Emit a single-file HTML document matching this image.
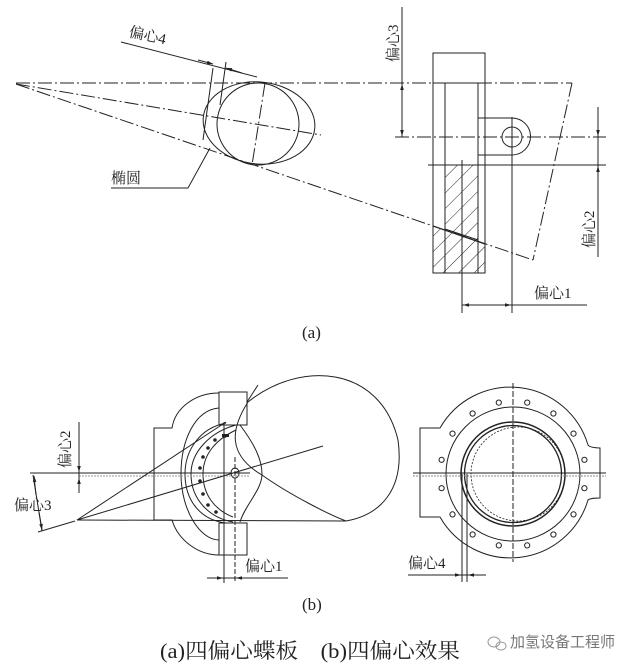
<!DOCTYPE html>
<html><head><meta charset="utf-8"><style>
html,body{margin:0;padding:0;background:#fff;}
svg{display:block;}
text{font-family:"Liberation Serif","Noto Serif CJK SC","Noto Sans CJK SC",serif;fill:#222;}
</style></head><body>
<svg width="637" height="666" viewBox="0 0 637 666" xmlns="http://www.w3.org/2000/svg">
<defs>
<pattern id="h" patternUnits="userSpaceOnUse" width="11" height="11" patternTransform="rotate(45)">
<line x1="0" y1="0" x2="0" y2="11" stroke="#222" stroke-width="1"/></pattern>
<marker id="a" viewBox="0 0 10 10" refX="10" refY="5" markerWidth="8" markerHeight="6" orient="auto-start-reverse"><path d="M0,2 L10,5 L0,8 z" fill="#222"/></marker>
</defs>
<g stroke="#222" stroke-width="1" fill="none">
<!-- (a) -->
<g stroke-dasharray="14 3 2 3">
<line x1="16" y1="83" x2="572" y2="83"/>
<line x1="572" y1="83" x2="533" y2="260"/>
<line x1="16" y1="84" x2="533" y2="260"/>
<line x1="16" y1="84" x2="321" y2="135"/>
<line x1="265" y1="83" x2="252" y2="165"/>
<line x1="395" y1="137" x2="606" y2="137"/>
</g>
<ellipse cx="259" cy="123" rx="56" ry="41" transform="rotate(6 259 123)"/>
<circle cx="258" cy="124" r="41"/>
<line x1="213" y1="68" x2="203" y2="140"/>
<line x1="226" y1="62" x2="220" y2="105"/>
<line x1="121" y1="42" x2="257" y2="77"/>
<line x1="198" y1="60" x2="213" y2="64" marker-end="url(#a)"/>
<line x1="242" y1="73" x2="226" y2="68" marker-end="url(#a)"/>
<polyline points="111,188 188,188 210,148"/>
<!-- part -->
<rect x="433" y="53" width="52" height="220"/>
<line x1="445" y1="83" x2="445" y2="273"/>
<line x1="478" y1="83" x2="478" y2="273"/>
<line x1="433" y1="83" x2="485" y2="83"/>
<polygon points="445,165 478,165 478,240 445,229" fill="url(#h)"/>
<polygon points="433,226 485,244 485,273 433,273" fill="url(#h)"/>
<line x1="433" y1="226" x2="485" y2="244"/>
<path d="M478,118 L512,118 A18,18 0 0 1 512,155 L478,155"/>
<circle cx="512" cy="137" r="10"/>
<line x1="428" y1="165" x2="606" y2="165"/>
<line x1="402" y1="7" x2="402" y2="137"/>
<line x1="402" y1="110" x2="402" y2="84" marker-end="url(#a)"/>
<line x1="402" y1="110" x2="402" y2="136" marker-end="url(#a)"/>
<line x1="598" y1="107" x2="598" y2="257"/>
<line x1="598" y1="120" x2="598" y2="136" marker-end="url(#a)"/>
<line x1="598" y1="182" x2="598" y2="166" marker-end="url(#a)"/>
<line x1="462" y1="160" x2="462" y2="313"/>
<line x1="512" y1="117" x2="512" y2="313"/>
<line x1="462" y1="305" x2="587" y2="305"/>
<line x1="485" y1="305" x2="463" y2="305" marker-end="url(#a)"/>
<line x1="490" y1="305" x2="511" y2="305" marker-end="url(#a)"/>

<!-- (b) left -->
<path d="M248,402 C300,360 380,365 398,440 C405,490 380,515 346,521 L77,520"/>
<path d="M248,402 C230,430 228,455 262,475 C290,495 330,515 346,521"/>
<path d="M219,393 C195,393 175,408 172,428 L154,428 L154,520 L172,520 C178,540 198,555 219,555"/>
<path d="M219,408 C195,410 181,440 181,474 C181,510 200,540 219,540"/>
<path d="M226,423 C200,428 185,450 185,474 C185,500 200,520 226,523"/>
<path d="M236,425 C210,432 191,452 191,474 C191,500 210,518 233,522"/>
<path d="M236,430 C215,440 203,455 203,474 C203,495 215,510 233,517"/>
<path d="M240,425 C255,445 262,460 262,474 C262,490 245,505 240,522"/>
<rect x="219" y="392" width="28" height="33"/>
<rect x="219" y="523" width="28" height="32"/>
<line x1="247" y1="402" x2="258" y2="385"/>
<line x1="224" y1="422" x2="224" y2="583"/>
<line x1="235" y1="457" x2="235" y2="583" stroke-dasharray="5 2"/>
<ellipse cx="235" cy="473" rx="4" ry="5"/>
<line x1="30" y1="473" x2="250" y2="473"/>
<line x1="79" y1="476" x2="250" y2="476" stroke="#999" stroke-dasharray="2 1"/>
<line x1="77" y1="520" x2="226" y2="422"/>
<line x1="77" y1="520" x2="323" y2="446"/>
<line x1="79" y1="422" x2="79" y2="493"/>
<line x1="79" y1="460" x2="79" y2="472" marker-end="url(#a)"/>
<line x1="79" y1="490" x2="79" y2="478" marker-end="url(#a)"/>
<line x1="33" y1="475" x2="42" y2="531"/>
<line x1="38" y1="532" x2="75" y2="521"/>
<line x1="36" y1="495" x2="34" y2="476" marker-end="url(#a)"/>
<line x1="39" y1="512" x2="42" y2="530" marker-end="url(#a)"/>
<line x1="207" y1="578" x2="288" y2="578"/>
<line x1="210" y1="578" x2="223" y2="578" marker-end="url(#a)"/>
<line x1="250" y1="578" x2="236" y2="578" marker-end="url(#a)"/>

<!-- (b) right -->
<path d="M440,428 L420,428 L420,517 L440,517 A81,81 0 0 0 588,500 C590,498 600,498 600,498 L600,448 C600,448 590,448 588,445 A81,81 0 0 0 440,428 Z"/>
<circle cx="513" cy="474" r="67"/>
<circle cx="513" cy="474" r="52" stroke-width="1.5"/>
<circle cx="513" cy="474" r="48.5" stroke-width="1.3"/>
<circle cx="518" cy="474" r="47" stroke-dasharray="2 1.5" stroke-width="0.8"/>
<line x1="413" y1="473" x2="606" y2="473"/>
<line x1="413" y1="476" x2="606" y2="476" stroke="#888" stroke-dasharray="2 1"/>
<line x1="513" y1="383" x2="513" y2="562" stroke-dasharray="6 2"/>
<g>
<circle cx="498.8" cy="402.6" r="2.6"/><circle cx="527.2" cy="402.6" r="2.6"/>
<circle cx="553.4" cy="413.5" r="2.6"/><circle cx="573.5" cy="433.6" r="2.6"/>
<circle cx="584.4" cy="459.8" r="2.6"/><circle cx="584.4" cy="488.2" r="2.6"/>
<circle cx="573.5" cy="514.4" r="2.6"/><circle cx="553.4" cy="534.5" r="2.6"/>
<circle cx="527.2" cy="545.4" r="2.6"/><circle cx="498.8" cy="545.4" r="2.6"/>
<circle cx="472.6" cy="534.5" r="2.6"/><circle cx="452.5" cy="514.4" r="2.6"/>
<circle cx="441.6" cy="488.2" r="2.6"/><circle cx="441.6" cy="459.8" r="2.6"/>
<circle cx="452.5" cy="433.6" r="2.6"/><circle cx="472.6" cy="413.5" r="2.6"/>
</g>
<line x1="462" y1="474" x2="462" y2="582"/>
<line x1="467" y1="474" x2="467" y2="582"/>
<line x1="408" y1="575" x2="486" y2="575"/>
<line x1="450" y1="575" x2="461" y2="575" marker-end="url(#a)"/>
<line x1="480" y1="575" x2="468" y2="575" marker-end="url(#a)"/>
</g>
<g fill="#222">
<circle cx="225" cy="436" r="1.8"/><circle cx="215" cy="440" r="1.8"/><circle cx="208" cy="448" r="1.8"/>
<circle cx="203" cy="457" r="1.8"/><circle cx="200" cy="468" r="1.8"/><circle cx="200" cy="481" r="1.8"/>
<circle cx="203" cy="494" r="1.8"/><circle cx="208" cy="505" r="1.8"/><circle cx="216" cy="512" r="1.8"/>
<rect x="222" y="434" width="7" height="3"/>
</g>
<!-- labels -->
<text x="129" y="41" font-size="15" transform="rotate(12 150 35)">偏心4</text>
<text x="111" y="183" font-size="15">椭圆</text>
<text x="398" y="62" font-size="15" transform="rotate(-90 398 62)">偏心3</text>
<text x="594" y="248" font-size="15" transform="rotate(-90 594 248)">偏心2</text>
<text x="534" y="298" font-size="15">偏心1</text>
<text x="302" y="338" font-size="17">(a)</text>
<text x="70" y="468" font-size="15" transform="rotate(-90 70 468)">偏心2</text>
<text x="14" y="510" font-size="15">偏心3</text>
<text x="245" y="571" font-size="15">偏心1</text>
<text x="408" y="568" font-size="15">偏心4</text>
<text x="302" y="610" font-size="17">(b)</text>
<text x="160" y="658" font-size="21" textLength="300" lengthAdjust="spacingAndGlyphs">(a)四偏心蝶板　(b)四偏心效果</text>
<text x="510" y="647" font-size="15" style="fill:#777;font-family:'Liberation Sans','Noto Sans CJK SC',sans-serif">加氢设备工程师</text>
<g fill="none" stroke="#999"><ellipse cx="494" cy="642" rx="6" ry="5"/><ellipse cx="501" cy="646" rx="5" ry="4"/></g>
</svg>
</body></html>
